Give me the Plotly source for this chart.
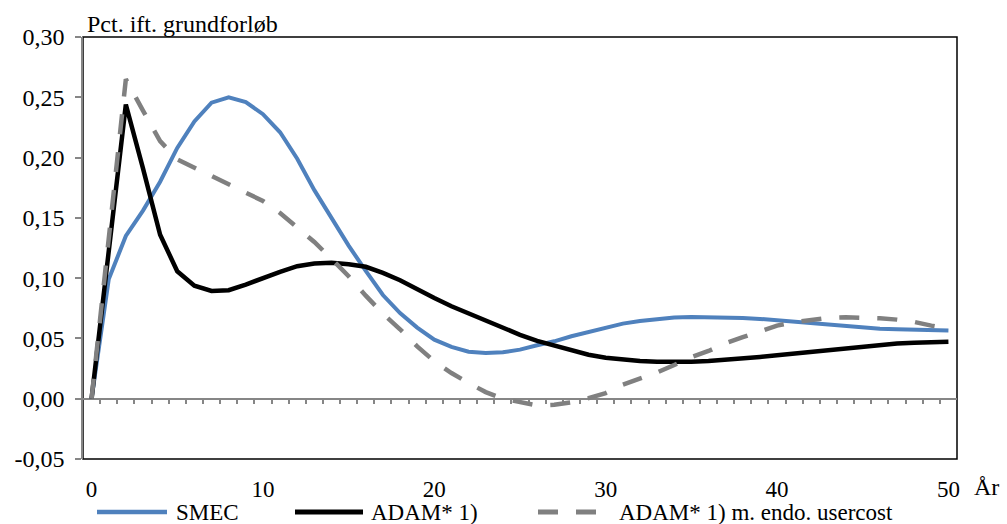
import plotly.graph_objects as go

# Years after the shock
years = list(range(0, 51))

# Effect in pct. relative to baseline
smec = [0, 0.099, 0.135, 0.156, 0.180, 0.208, 0.230, 0.2455, 0.250, 0.246,
        0.236, 0.221, 0.199, 0.173, 0.150, 0.127, 0.106, 0.086, 0.071, 0.059,
        0.049, 0.043, 0.039, 0.038, 0.0385, 0.0407, 0.0443, 0.0476, 0.0518, 0.0554,
        0.0592, 0.0623, 0.0645, 0.0662, 0.0673, 0.0678, 0.0678, 0.0675, 0.067, 0.0662,
        0.065, 0.0637, 0.0623, 0.0609, 0.0598, 0.0587, 0.0581, 0.0576, 0.0573, 0.057,
        0.0565]

adam = [0, 0.121, 0.244, 0.191, 0.136, 0.1057, 0.0938, 0.0894, 0.090, 0.0947,
        0.1002, 0.1052, 0.1099, 0.1121, 0.1127, 0.1116, 0.1094, 0.1044, 0.0983, 0.0905,
        0.0836, 0.0767, 0.0706, 0.0642, 0.0581, 0.053, 0.048, 0.044, 0.0399, 0.0365,
        0.034, 0.0324, 0.0313, 0.0307, 0.0305, 0.0307, 0.0313, 0.0321, 0.0332, 0.0346,
        0.036, 0.0374, 0.039, 0.0407, 0.0421, 0.0434, 0.0446, 0.0457, 0.0465, 0.047,
        0.0473]

adam_usercost = [0, 0.132, 0.265, 0.239, 0.2137, 0.1985, 0.1916, 0.1847, 0.178, 0.1714,
                 0.164, 0.154, 0.142, 0.130, 0.116, 0.1016, 0.0855, 0.0706, 0.0576, 0.0434,
                 0.031, 0.0213, 0.013, 0.0055, 0.0, -0.003, -0.0055, -0.005, -0.003, 0.0005,
                 0.0047, 0.0116, 0.0166, 0.0218, 0.028, 0.0346, 0.0396, 0.046, 0.051, 0.056,
                 0.0606, 0.0634, 0.0656, 0.067, 0.0675, 0.0675, 0.0667, 0.0656, 0.0637, 0.0606,
                 0.058]

series_names = ["SMEC", "ADAM* 1)", "ADAM* 1) m. endo. usercost"]
series_colors = ["#4F81BD", "#000000", "#808080"]
series_dash = ["solid", "solid", "20px,18px"]
series_width = [4, 4.5, 4.5]

y_ticks = [-0.05, 0.0, 0.05, 0.10, 0.15, 0.20, 0.25, 0.30]
y_ticktext = [f"{v:.2f}".replace(".", ",") for v in y_ticks]
x_ticks = [0, 10, 20, 30, 40, 50]
minor_ticks = [i + 0.5 for i in range(0, 50)]

FONT = "Liberation Serif"
FS = 24      # title, y ticks, unit
FS_LOW = 23  # x ticks and legend row

fig = go.Figure()
for name, vals, col, dash, w in zip(series_names, [smec, adam, adam_usercost],
                                    series_colors, series_dash, series_width):
    fig.add_trace(go.Scatter(x=years, y=vals, mode="lines", name=name,
                             line=dict(color=col, width=w, dash=dash),
                             showlegend=False))

# carrier trace for the zero axis
fig.add_trace(go.Scatter(x=[], y=[], xaxis="x2", showlegend=False, hoverinfo="skip"))

fig.update_layout(
    width=1007, height=524,
    margin=dict(l=83, r=50, t=37, b=65),
    paper_bgcolor="white", plot_bgcolor="white",
    font=dict(family=FONT, size=FS, color="black"),
    xaxis=dict(range=[-0.5, 50.5], tickvals=x_ticks, ticks="", showline=False,
               showgrid=False, zeroline=False, ticklabelstandoff=14,
               tickfont=dict(family=FONT, size=FS_LOW)),
    xaxis2=dict(range=[-0.5, 50.5], overlaying="x", anchor="free", position=1 / 7,
                side="bottom", showline=True, linecolor="#868686", linewidth=1.5,
                ticks="outside", ticklen=5, tickwidth=1.5, tickcolor="#868686",
                tickvals=minor_ticks, showticklabels=False, showgrid=False,
                zeroline=False, layer="below traces"),
    yaxis=dict(range=[-0.05, 0.30], tickvals=y_ticks, ticktext=y_ticktext,
               showline=True, linecolor="#868686", linewidth=1.5,
               ticks="outside", ticklen=6, tickwidth=1.5, tickcolor="#868686",
               showgrid=False, zeroline=False, ticklabelstandoff=6,
               tickfont=dict(family=FONT, size=FS)),
)

# plot-area frame
fig.add_shape(type="rect", xref="paper", yref="paper", x0=0, x1=1, y0=0, y1=1,
              line=dict(color="black", width=1.5), layer="below")

fig.add_annotation(text="Pct. ift. grundforløb", xref="paper", yref="paper",
                   x=0, y=1.031, xanchor="left", yanchor="middle", xshift=2,
                   showarrow=False, font=dict(family=FONT, size=FS))
fig.add_annotation(text="År", xref="paper", yref="paper", x=1.0503, y=-0.0664,
                   xanchor="right", yanchor="middle", showarrow=False,
                   font=dict(family=FONT, size=FS))

# legend row beneath the axis
plot_w = 1007 - 83 - 50
plot_h = 524 - 37 - 65
leg_y = (459 - 512) / plot_h
sample_px = [(97, 167), (295, 363), (538, 600)]
text_px = [174, 369, 617]
for name, col, dash, w, (a, b), t in zip(series_names, series_colors, series_dash,
                                         series_width, sample_px, text_px):
    fig.add_shape(type="line", xref="paper", yref="paper",
                  x0=(a - 83) / plot_w, x1=(b - 83) / plot_w, y0=leg_y, y1=leg_y,
                  line=dict(color=col, width=w + 0.5, dash=dash))
    fig.add_annotation(text=name, xref="paper", yref="paper",
                       x=(t - 83) / plot_w, y=leg_y, xanchor="left", yanchor="middle",
                       showarrow=False, font=dict(family=FONT, size=FS_LOW))

fig.write_html("out.html")
